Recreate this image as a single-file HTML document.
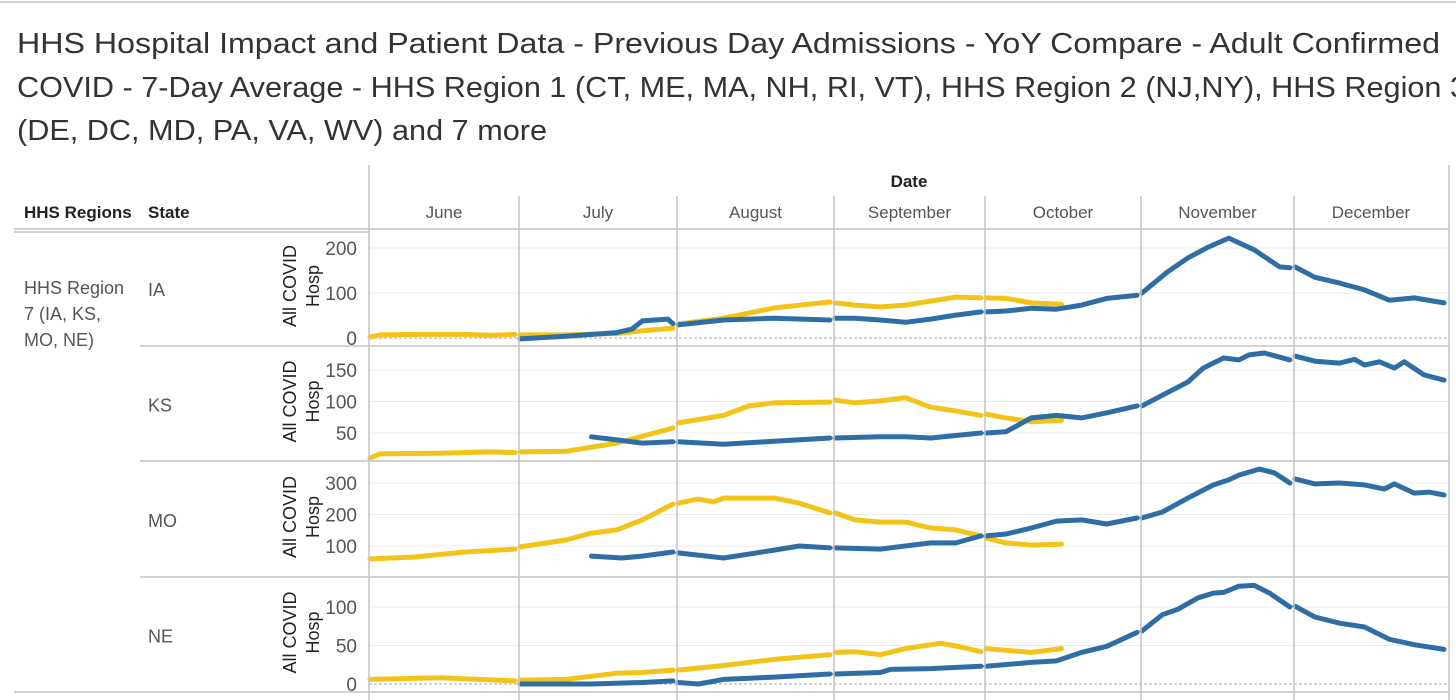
<!DOCTYPE html>
<html><head><meta charset="utf-8"><style>
html,body{margin:0;padding:0;background:#fff;width:1456px;height:700px;overflow:hidden}
svg{display:block;font-family:"Liberation Sans",sans-serif}
</style></head><body>
<svg id="chart" width="1456" height="700" viewBox="0 0 1456 700">
<line x1="0" y1="2" x2="1456" y2="2" stroke="#cfcfcf" stroke-width="2"/>
<g fill="#333" font-size="29">
<text x="17" y="53" textLength="1423" lengthAdjust="spacingAndGlyphs">HHS Hospital Impact and Patient Data - Previous Day Admissions - YoY Compare - Adult Confirmed</text>
<text x="17" y="97" textLength="1450" lengthAdjust="spacingAndGlyphs">COVID - 7-Day Average - HHS Region 1 (CT, ME, MA, NH, RI, VT), HHS Region 2 (NJ,NY), HHS Region 3</text>
<text x="17" y="140" textLength="530" lengthAdjust="spacingAndGlyphs">(DE, DC, MD, PA, VA, WV) and 7 more</text>
</g>
<text x="909" y="187" text-anchor="middle" font-size="17" font-weight="bold" fill="#222">Date</text>
<text x="24" y="218" font-size="17" font-weight="bold" fill="#222">HHS Regions</text>
<text x="148" y="218" font-size="17" font-weight="bold" fill="#222">State</text>
<g font-size="18" fill="#555">
<text x="24" y="294">HHS Region</text><text x="24" y="320">7 (IA, KS,</text><text x="24" y="346">MO, NE)</text>
</g>
<g id="grid"></g>
<g id="lines"></g>
<g id="frame"></g>
</svg>
<script>
const NS='http://www.w3.org/2000/svg';
const months=['June','July','August','September','October','November','December'];
const monthAbbr=['Jun','Jul','Aug','Sep','Oct','Nov','Dec'];
const monthLen=[30,31,31,30,31,30,31];
const stateLabels=['IA','KS','MO','NE'];
const iaTicks=[0,100,200];
const ksTicks=[50,100,150];
const moTicks=[100,200,300];
const neTicks=[0,50,100];

const iaYellowDates=['Jun 1','Jun 3','Jun 10','Jun 20','Jun 25','Jun 30','Jul 1','Jul 10','Jul 20','Jul 25','Jul 31','Aug 1','Aug 10','Aug 20','Aug 31','Sep 1','Sep 5','Sep 10','Sep 15','Sep 20','Sep 25','Sep 30','Oct 1','Oct 5','Oct 10','Oct 16'];
const iaYellowVals=[2,7,8,8,6,8,7,7,10,16,22,31,44,67,80,78,73,69,73,82,91,89,89,88,78,75];
const iaBlueDates=['Jul 1','Jul 10','Jul 20','Jul 23','Jul 25','Jul 30','Jul 31','Aug 1','Aug 10','Aug 20','Aug 31','Sep 1','Sep 5','Sep 10','Sep 15','Sep 20','Sep 25','Sep 30','Oct 1','Oct 5','Oct 10','Oct 15','Oct 20','Oct 25','Oct 31','Nov 1','Nov 6','Nov 10','Nov 14','Nov 18','Nov 23','Nov 28','Nov 30','Dec 1','Dec 5','Dec 10','Dec 15','Dec 20','Dec 25','Dec 31'];
const iaBlueVals=[-2,4,12,20,38,42,32,29,40,44,40,44,44,40,35,42,51,58,58,60,66,64,73,88,95,100,147,178,202,222,196,158,156,158,135,122,107,84,89,78];

const ksYellowDates=['Jun 1','Jun 3','Jun 15','Jun 25','Jun 30','Jul 1','Jul 10','Jul 20','Jul 31','Aug 1','Aug 10','Aug 15','Aug 20','Aug 31','Sep 1','Sep 5','Sep 10','Sep 15','Sep 20','Sep 25','Sep 30','Oct 1','Oct 5','Oct 10','Oct 16'];
const ksYellowVals=[10,17,18,20,19,20,21,34,58,66,78,93,98,99,102,98,101,106,91,85,78,80,74,68,70];
const ksBlueDates=['Jul 15','Jul 20','Jul 25','Jul 31','Aug 1','Aug 10','Aug 20','Aug 31','Sep 1','Sep 10','Sep 15','Sep 20','Sep 30','Oct 1','Oct 5','Oct 10','Oct 15','Oct 20','Oct 25','Oct 31','Nov 1','Nov 5','Nov 10','Nov 13','Nov 17','Nov 20','Nov 22','Nov 25','Nov 30','Dec 1','Dec 5','Dec 10','Dec 13','Dec 15','Dec 18','Dec 21','Dec 23','Dec 27','Dec 31'];
const ksBlueVals=[44,39,34,36,36,32,37,42,42,44,44,42,50,50,52,74,78,74,82,93,93,110,131,153,169,166,174,177,166,172,164,161,167,158,163,153,163,142,134];

const moYellowDates=['Jun 1','Jun 10','Jun 20','Jun 30','Jul 1','Jul 10','Jul 15','Jul 20','Jul 25','Jul 31','Aug 1','Aug 5','Aug 8','Aug 10','Aug 20','Aug 25','Aug 31','Sep 1','Sep 5','Sep 10','Sep 15','Sep 20','Sep 25','Sep 30','Oct 1','Oct 5','Oct 10','Oct 16'];
const moYellowVals=[59,65,81,90,97,119,141,151,183,233,236,249,240,252,252,236,205,205,183,176,176,157,151,132,125,110,103,106];
const moBlueDates=['Jul 15','Jul 21','Jul 25','Jul 31','Aug 1','Aug 10','Aug 20','Aug 25','Aug 31','Sep 1','Sep 10','Sep 20','Sep 25','Sep 30','Oct 1','Oct 5','Oct 10','Oct 15','Oct 20','Oct 25','Oct 31','Nov 1','Nov 5','Nov 10','Nov 15','Nov 18','Nov 20','Nov 24','Nov 27','Nov 30','Dec 1','Dec 5','Dec 10','Dec 15','Dec 19','Dec 21','Dec 25','Dec 28','Dec 31'];
const moBlueVals=[68,62,68,81,78,62,87,100,94,94,90,110,110,132,132,138,157,179,183,170,189,189,208,252,294,310,325,344,332,300,313,297,300,294,281,297,268,271,262];

const neYellowDates=['Jun 1','Jun 15','Jun 30','Jul 1','Jul 10','Jul 15','Jul 20','Jul 25','Jul 31','Aug 1','Aug 10','Aug 20','Aug 31','Sep 1','Sep 5','Sep 10','Sep 15','Sep 22','Sep 26','Sep 30','Oct 1','Oct 10','Oct 16'];
const neYellowVals=[6,8,4,5,6,10,14,15,18,18,24,32,38,41,42,38,46,53,48,42,46,41,46];
const neBlueDates=['Jul 1','Jul 15','Jul 25','Jul 31','Aug 1','Aug 5','Aug 10','Aug 20','Aug 31','Sep 1','Sep 10','Sep 12','Sep 20','Sep 30','Oct 1','Oct 10','Oct 15','Oct 20','Oct 25','Oct 31','Nov 1','Nov 5','Nov 8','Nov 12','Nov 15','Nov 17','Nov 20','Nov 23','Nov 26','Nov 30','Dec 1','Dec 5','Dec 10','Dec 15','Dec 20','Dec 25','Dec 31'];
const neBlueVals=[0,0,2,4,2,0,6,9,13,13,15,19,20,23,23,28,30,41,49,67,69,90,97,112,118,119,127,128,118,100,101,87,79,74,58,51,45];

const monthStart=[369,519,677,834,985,1141,1294,1448];
function parseDate(s){const p=s.split(' ');return {m:monthAbbr.indexOf(p[0]),d:+p[1]};}
function xScale(s){const t=parseDate(s);const w=monthStart[t.m+1]-monthStart[t.m];return monthStart[t.m]+(t.d-1)/monthLen[t.m]*w+1;}
const panels=[
 {state:'IA',top:230,bottom:346,ticks:iaTicks,y:v=>338-v*0.45,zero:true,series:[[iaYellowDates,iaYellowVals,'yellow'],[iaBlueDates,iaBlueVals,'blue']]},
 {state:'KS',top:346,bottom:461,ticks:ksTicks,y:v=>433-(v-50)*0.63,zero:false,series:[[ksYellowDates,ksYellowVals,'yellow'],[ksBlueDates,ksBlueVals,'blue']]},
 {state:'MO',top:461,bottom:577,ticks:moTicks,y:v=>546-(v-100)*0.315,zero:false,series:[[moYellowDates,moYellowVals,'yellow'],[moBlueDates,moBlueVals,'blue']]},
 {state:'NE',top:577,bottom:692,ticks:neTicks,y:v=>684-v*0.77,zero:true,series:[[neYellowDates,neYellowVals,'yellow'],[neBlueDates,neBlueVals,'blue']]}
];
const colors={yellow:'#F2C41A',blue:'#2F6EA5'};
const grid=document.getElementById('grid'),lines=document.getElementById('lines'),frame=document.getElementById('frame');
function mk(tag,attrs,parent,txt){const e=document.createElementNS(NS,tag);for(const k in attrs)e.setAttribute(k,attrs[k]);if(txt!==undefined)e.textContent=txt;parent.appendChild(e);return e;}

months.forEach((m,i)=>{
 const t=mk('text',{x:(monthStart[i]+monthStart[i+1])/2,y:218,'text-anchor':'middle','font-size':17,fill:'#555'},frame,m);
 
 
});
panels.forEach((p,pi)=>{
 const st=mk('text',{x:148,y:(p.top+p.bottom)/2+8,'font-size':18,fill:'#555'},frame,p.state);
 
 
 const cy=(p.top+p.bottom)/2-2;
 const at=mk('text',{transform:`translate(296,${cy}) rotate(-90)`,'text-anchor':'middle','font-size':18,fill:'#222'},frame,'All COVID');
 
 
 const at2=mk('text',{transform:`translate(319,${cy}) rotate(-90)`,'text-anchor':'middle','font-size':18,fill:'#222'},frame,'Hosp');
 
 
 p.ticks.forEach(v=>{
  const yy=p.y(v);
  if(!(p.zero&&v===0)){const g=mk('line',{x1:369,x2:1448,y1:yy,y2:yy,stroke:'#ececec','stroke-width':1},grid);
   
   }
  const tl=mk('text',{x:357,y:yy+7,'text-anchor':'end','font-size':19,fill:'#555'},frame,String(v));
  
  
 });
 if(p.zero){const z=mk('line',{x1:369,x2:1448,y1:p.y(0),y2:p.y(0),stroke:'#bbb','stroke-width':1.2,'stroke-dasharray':'3,2'},grid);
  
  }
 p.series.forEach(([dates,vals,c])=>{
  let seg=[],lastM=-1;
  const flush=()=>{if(seg.length>1){const pl=mk('polyline',{points:seg.join(' '),fill:'none',stroke:colors[c],'stroke-width':5,'stroke-linejoin':'round','stroke-linecap':'round'},lines);
   
   }seg=[];};
  dates.forEach((d,i)=>{const m=parseDate(d).m;if(m!==lastM){flush();lastM=m;}seg.push(xScale(d).toFixed(1)+','+p.y(vals[i]).toFixed(1));});
  flush();
 });
});
const fl=(x1,y1,x2,y2,n)=>{const l=mk('line',{x1,y1,x2,y2,stroke:'#c4c4c4','stroke-width':1.5},frame);
 
 };
fl(369,165,369,700,'axis-left-border');
fl(1449,165,1449,700,'axis-right-border');
for(let i=1;i<7;i++)fl(monthStart[i],196,monthStart[i],700,'month-divider');
fl(14,229,1449,229,'header-divider');
fl(14,232,369,232,'header-divider-double');
[346,461,577].forEach(y=>fl(140,y,1449,y,'row-divider'));
fl(14,692,1449,692,'region-divider');
</script>
</body></html>
